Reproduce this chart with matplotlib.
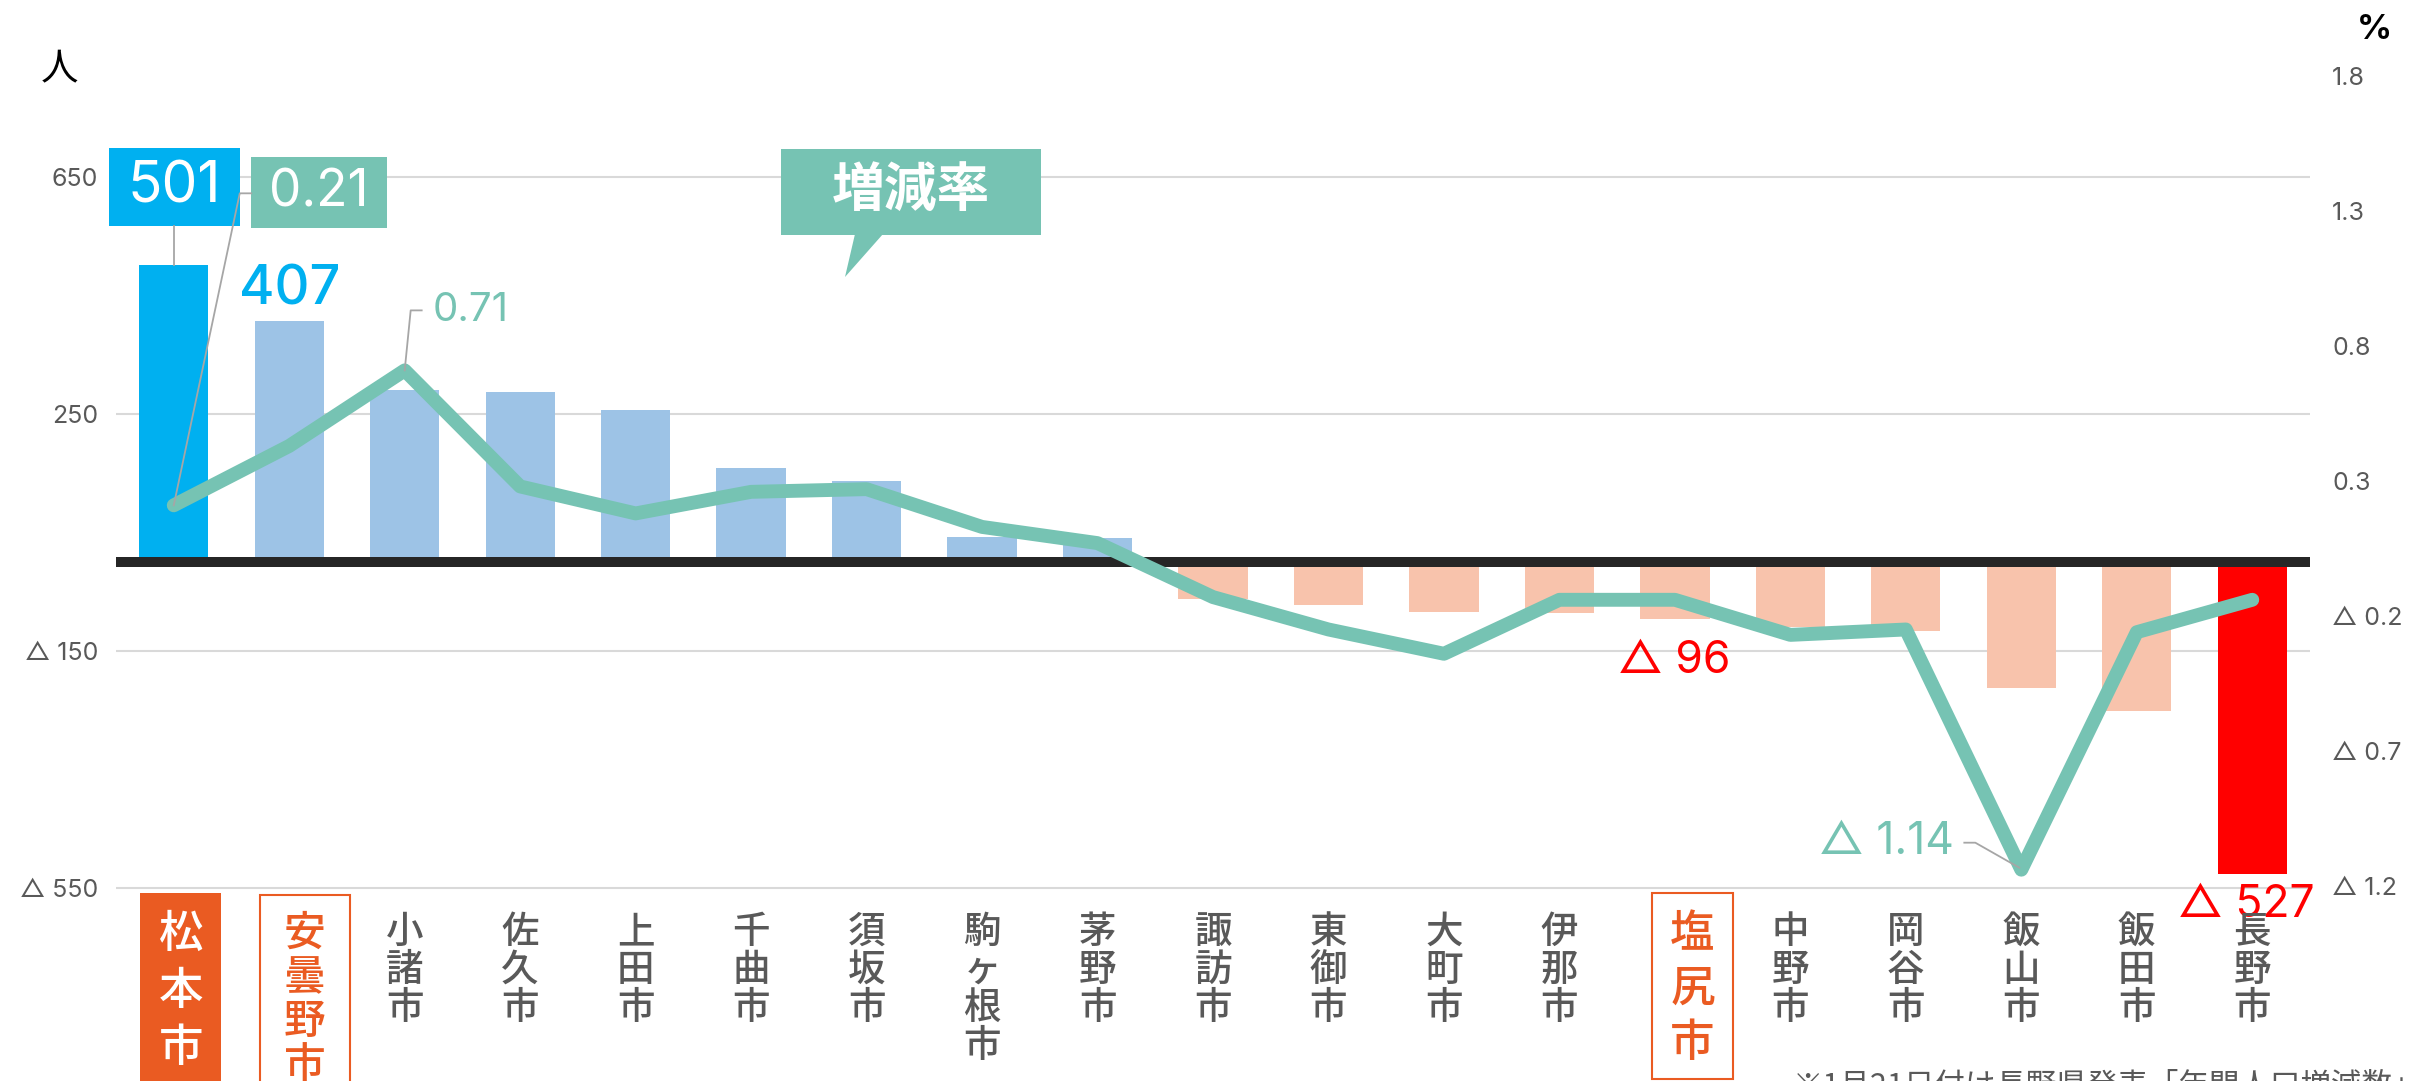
import matplotlib
matplotlib.use('Agg')
import matplotlib.pyplot as plt
from matplotlib.patches import Rectangle, Polygon
from matplotlib.lines import Line2D

plt.rcParams['font.family'] = ['Noto Sans CJK JP', 'DejaVu Sans']
NUMFONT = ['Inter', 'Noto Sans CJK JP', 'DejaVu Sans']

# data
cities = ['松本市', '安曇野市', '小諸市', '佐久市', '上田市', '千曲市', '須坂市', '駒ヶ根市', '茅野市',
          '諏訪市', '東御市', '大町市', '伊那市', '塩尻市', '中野市', '岡谷市', '飯山市', '飯田市', '長野市']
change = [501, 407, 290, 286, 256, 158, 137, 42, 40,
          -62, -73, -84, -86, -96, -110, -116, -213, -252, -527]
rate = [0.21, 0.43, 0.71, 0.28, 0.18, 0.26, 0.27, 0.13, 0.07,
        -0.13, -0.25, -0.34, -0.14, -0.14, -0.27, -0.25, -1.14, -0.26, -0.14]
left_ticks = [650, 250, -150, -550]
left_labels = ['650', '250', '△ 150', '△ 550']
right_ticks = [1.8, 1.3, 0.8, 0.3, -0.2, -0.7, -1.2]
right_labels = ['1.8', '1.3', '0.8', '0.3', '△ 0.2', '△ 0.7', '△ 1.2']
footnote = '※1月21日付け長野県発表「年間人口増減数」より'

BLUE = '#00B0F0'
LBLUE = '#9DC3E6'
SALMON = '#F8C3AC'
RED = '#FF0000'
TEAL = '#76C3B3'
ORANGE = '#EA5B22'
GRAY = '#595959'

W, H = 2419, 1081
fig = plt.figure(figsize=(W / 100, H / 100), dpi=100)
ax = fig.add_axes([116 / W, (H - 891) / H, (2310 - 116) / W, (891 - 70) / H])

ylim = (-555, 830)
k = 0.593 / 270
ax.set_xlim(-0.5, len(cities) - 0.5)
ax.set_ylim(*ylim)

x = list(range(len(cities)))
colors = []
for i, v in enumerate(change):
    if i == 0:
        colors.append(BLUE)
    elif i == len(change) - 1:
        colors.append(RED)
    else:
        colors.append(LBLUE if v > 0 else SALMON)
ax.bar(x, change, width=0.6, color=colors, zorder=2)
ax.axhline(0, color='#262626', lw=7.2, zorder=3)

ax.set_yticks(left_ticks)
ax.set_yticklabels(left_labels, family=NUMFONT)
ax.yaxis.grid(True, color='#D9D9D9', lw=1.5)
ax.set_axisbelow(True)
ax.set_xticks([])
ax.tick_params(axis='y', length=0, pad=13, labelsize=18, labelcolor=GRAY)
for s in ax.spines.values():
    s.set_visible(False)

ax2 = ax.twinx()
ax2.set_ylim(ylim[0] * k, ylim[1] * k)
ax2.plot(x, rate, color=TEAL, lw=10, solid_capstyle='round', solid_joinstyle='round', zorder=4)
ax2.set_yticks(right_ticks)
ax2.set_yticklabels(right_labels, family=NUMFONT)
ax2.tick_params(axis='y', length=0, pad=16, labelsize=18, labelcolor=GRAY)
for s in ax2.spines.values():
    s.set_visible(False)


def to_img(axis, xv, yv):
    dx, dy = axis.transData.transform((xv, yv))
    return dx, H - dy


def fxy(px, py):
    return px / W, 1 - py / H


def box(x0, y0, x1, y1, fc, ec='none', lw=0):
    fig.add_artist(Rectangle(fxy(x0, y1), (x1 - x0) / W, (y1 - y0) / H, transform=fig.transFigure,
                             fc=fc, ec=ec, lw=lw, zorder=5))


def seg(pts, color='#A6A6A6', lw=1.3):
    xs = [p[0] / W for p in pts]
    ys = [1 - p[1] / H for p in pts]
    fig.add_artist(Line2D(xs, ys, transform=fig.transFigure, color=color, lw=lw, zorder=6))


def txt(px, py, s, **kw):
    kw.setdefault('zorder', 7)
    fig.text(*fxy(px, py), s, **kw)


# unit labels
txt(59, 70, '人', fontsize=27, color='black', ha='center', va='center')
txt(2374, 30, '%', fontsize=25, fontweight='bold', color='black', ha='center', va='center', family=NUMFONT)

# 松本市 labels
bx, by = to_img(ax, 0, change[0])
box(bx - 64.5, by - 117, bx + 66.5, by - 39, BLUE)
txt(bx + 1, by - 78, str(change[0]), fontsize=41, color='white', ha='center', va='center', family=NUMFONT)
seg([(bx, by - 39), (bx, by)])

lx, ly = to_img(ax2, 0, rate[0])
box(lx + 77.5, ly - 348, lx + 213.5, ly - 277, TEAL)
txt(lx + 145.5, ly - 312, f'{rate[0]:.2f}', fontsize=37, color='white', ha='center', va='center', family=NUMFONT)
seg([(lx + 77.5, ly - 312), (lx + 66, ly - 312), (lx, ly)])

# 安曇野市
px, py = to_img(ax, 1, change[1])
txt(px, py - 31, str(change[1]), fontsize=39, fontweight='medium', color=BLUE, ha='center', va='center',
    family=NUMFONT)

# 小諸市 rate
px, py = to_img(ax2, 2, rate[2])
txt(px + 27.5, py - 60, f'{rate[2]:.2f}', fontsize=29, color=TEAL, ha='left', va='center', family=NUMFONT)
seg([(px + 17, py - 60), (px + 6, py - 60), (px, py)])

# 塩尻市
px, py = to_img(ax, 13, change[13])
txt(px - 1, py + 42, f'△ {-change[13]}', fontsize=32, color=RED, ha='center', va='center', family=NUMFONT)

# 飯山市 rate
px, py = to_img(ax2, 16, rate[16])
txt(px - 67, py - 28, f'△ {-rate[16]:.2f}', fontsize=32, color=TEAL, ha='right', va='center', family=NUMFONT)
seg([(px - 57, py - 27), (px - 46, py - 27), (px - 2, py - 2)])

# 長野市
px, py = to_img(ax, 18, change[18])
txt(px - 6, py + 31, f'△ {-change[18]}', fontsize=32, color=RED, ha='center', va='center', family=NUMFONT)

# 増減率 callout
box(781, 149, 1041, 235, TEAL)
fig.add_artist(Polygon([fxy(855, 234), fxy(883, 234), fxy(845, 277)], closed=True,
                       transform=fig.transFigure, fc=TEAL, ec='none', zorder=5))
txt(911, 190, '増減率', fontsize=38, fontweight='bold', color='white', ha='center', va='center')

# category labels (vertical)
for i, name in enumerate(cities):
    cx = to_img(ax, i, 0)[0]
    label = '\n'.join(name)
    if name == '松本市':
        box(cx + 7 - 40.5, 893, cx + 7 + 40.5, H + 5, ORANGE)
        txt(cx + 7, 912, label, fontsize=32, fontweight='medium', color='white', ha='center', va='top',
            linespacing=1.34)
    elif name == '安曇野市':
        box(cx + 15.5 - 45, 895, cx + 15.5 + 45, H + 5, 'white', ec=ORANGE, lw=1.5)
        txt(cx + 15.5, 912, label, fontsize=30, fontweight='medium', color=ORANGE, ha='center', va='top',
            linespacing=1.03)
    elif name == '塩尻市':
        box(cx + 17.5 - 40.5, 893, cx + 17.5 + 40.5, 1079, 'white', ec=ORANGE, lw=1.5)
        txt(cx + 17.5, 912, label, fontsize=32, fontweight='medium', color=ORANGE, ha='center', va='top',
            linespacing=1.27)
    else:
        txt(cx, 913, label, fontsize=27, fontweight='medium', color=GRAY, ha='center', va='top',
            linespacing=1.0)

txt(1793, 1070, footnote, fontsize=22, color=GRAY, ha='left', va='top')

fig.savefig('out.png', dpi=100)
